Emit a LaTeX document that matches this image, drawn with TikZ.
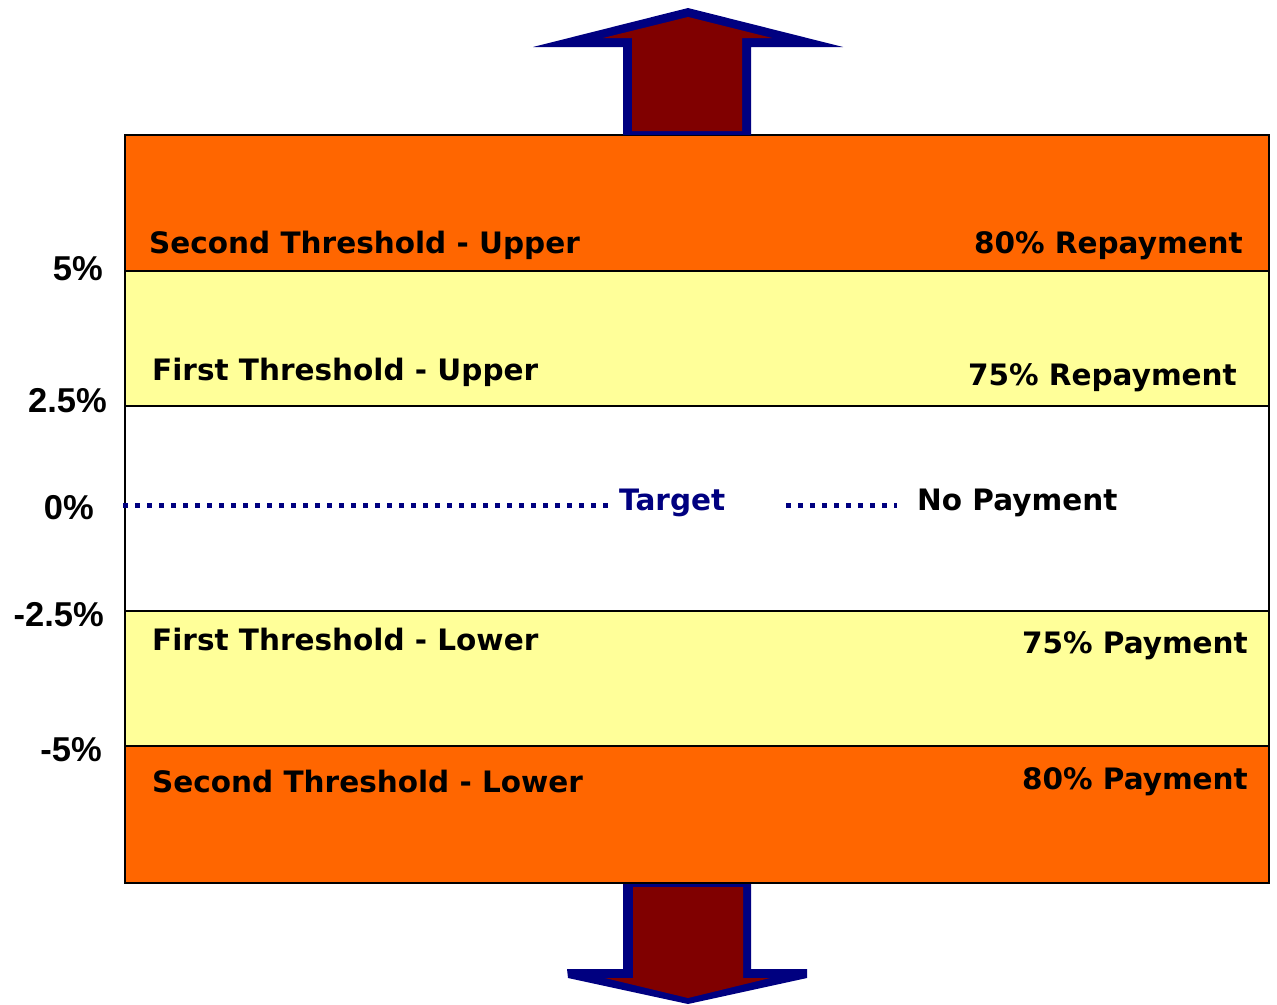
\documentclass[tikz,border=0pt]{standalone}
\usepackage{fontspec}
\newfontfamily\bandfont{DejaVu Sans}
\newfontfamily\axisfont{Liberation Sans}
\usetikzlibrary{positioning}
\definecolor{bandOrange}{HTML}{FF6600}
\definecolor{bandYellow}{HTML}{FFFF99}
\definecolor{arrowNavy}{HTML}{000080}
\definecolor{arrowMaroon}{HTML}{800000}
\tikzset{
  bandline/.style={black, line width=1.5pt},
  bandlabel/.style={inner sep=0pt, font=\bandfont\bfseries\fontsize{29.5}{32}\selectfont},
  axislabel/.style={inner sep=0pt, anchor=base east, font=\axisfont\bfseries\fontsize{34.5}{36}\selectfont},
  targetline/.style={arrowNavy, line width=5pt, dash pattern=on 5pt off 7pt},
}

\begin{document}
\begin{tikzpicture}[x=1pt,y=-1pt]
    \useasboundingbox (0,0) rectangle (1277,1004);
    % coloured bands
    \fill[bandOrange] (125,135) rectangle (1269,271);
    \fill[bandYellow] (125,271) rectangle (1269,406);
    \fill[bandYellow] (125,611) rectangle (1269,746);
    \fill[bandOrange] (125,746) rectangle (1269,883);
    \foreach \y in {271,406,611,746}
        \draw[bandline] (125,\y) -- (1269,\y);
    \draw[black, line width=2pt] (125,135) rectangle (1269,883);

    % up arrow
    \fill[arrowNavy] (623,135) -- (623,47) -- (533,47) -- (688,8) -- (843,47) -- (751,47) -- (751,135) -- cycle;
    \fill[arrowMaroon] (632,131) -- (632,38) -- (603,38) -- (688,17) -- (772,38) -- (742,38) -- (742,131) -- cycle;
    % down arrow
    \fill[arrowNavy] (623,884) -- (623,969) -- (567,969) -- (568,978) -- (688,1004) -- (807,978) -- (807,969) -- (751,969) -- (751,884) -- cycle;
    \fill[arrowMaroon] (633,887) -- (633,978) -- (605,978) -- (688,998) -- (770,978) -- (743,978) -- (743,887) -- cycle;

    % axis values
    \node[axislabel] (p5) at (103,280) {5\%};
    \node[axislabel] (p25) at (107,412) {2.5\%};
    \node[axislabel] (p0) at (94,519) {0\%};
    \node[axislabel] (m25) at (104,626) {-2.5\%};
    \node[axislabel] (m5) at (102,761) {-5\%};

    % band texts
    \node[bandlabel, anchor=base west] (secUp) at (149,253) {Second Threshold - Upper};
    \node[bandlabel, anchor=base east] (repay80) at (1243,253) {80\% Repayment};
    \node[bandlabel, anchor=base west] (firUp) at (152,380) {First Threshold - Upper};
    \node[bandlabel, anchor=base east] (repay75) at (1237,385) {75\% Repayment};
    \node[bandlabel, anchor=base west] (firLo) at (152,650) {First Threshold - Lower};
    \node[bandlabel, anchor=base east] (pay75) at (1248,653) {75\% Payment};
    \node[bandlabel, anchor=base west] (secLo) at (152,792) {Second Threshold - Lower};
    \node[bandlabel, anchor=base east] (pay80) at (1248,789) {80\% Payment};

    % target line
    \node[bandlabel, anchor=base west, text=arrowNavy] (target) at (619,510) {Target};
    \node[bandlabel, anchor=base west] (nopay) at (917,510) {No Payment};
    \coordinate (tgtL) at (123,505);
    \coordinate (tgtR) at (610,505);
    \coordinate (keyL) at (786,505);
    \coordinate (keyR) at (897,505);
    \draw[targetline] (tgtL) -- (tgtR);
    \draw[targetline] (keyL) -- (keyR);
\end{tikzpicture}
\end{document}
